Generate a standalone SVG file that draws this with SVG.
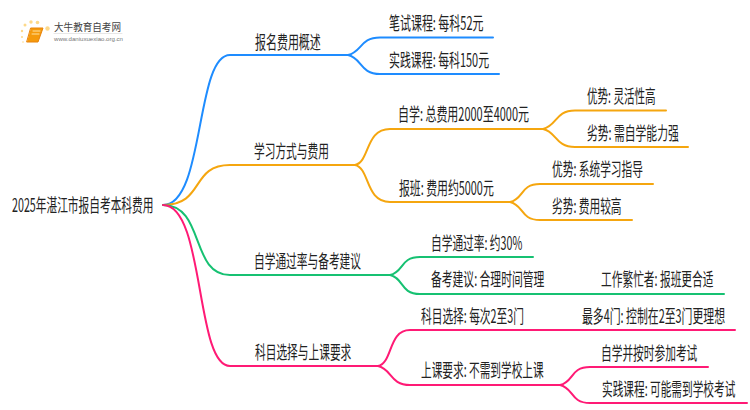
<svg xmlns="http://www.w3.org/2000/svg" width="750" height="410" viewBox="0 0 750 410">
<style>
text{font-family:"Noto Sans CJK SC","Noto Sans",sans-serif;font-size:18px;fill:#222}
path{fill:none;stroke-linecap:round}
.b{stroke:#1e8cff}.o{stroke:#f5a60f}.g{stroke:#16c172}.p{stroke:#ff1a75}
.l1{stroke-width:2}.l2{stroke-width:2}
</style>
<rect width="750" height="410" fill="#fff"/>
<g id="logo">
<g fill="#fdd98a"><circle cx="47.500" cy="28.500" r="2.200"/><circle cx="37.500" cy="22.500" r="1.800"/><circle cx="31" cy="22" r="1.700"/><circle cx="25" cy="25" r="1.500"/><circle cx="22" cy="31" r="1.200"/><circle cx="22" cy="37" r="1"/><circle cx="23" cy="42" r=".8"/></g>
<path d="M31 28H43L38 42H27Z" style="fill:#f59a0c;stroke:#e8830a"/>
<path d="M33 31H40M32 34H39" style="stroke:#ffe2a0;stroke-width:1"/>
<text x="54" y="31" textLength="67" lengthAdjust="spacingAndGlyphs" style="font-size:10.500px;fill:#444">大牛教育自考网</text>
<path d="M54 33.500H122" style="stroke:#ddd;stroke-width:.7"/>
<text x="54" y="41" textLength="69" lengthAdjust="spacingAndGlyphs" style="font-family:'Liberation Sans',sans-serif;font-size:6px;fill:#777">www.daniuxuexiao.org.cn</text>
</g>
<g id="connectors">
<path class="b l1" d="M163 205C205 205 195 55 230 55H348"/>
<path class="b l2" d="M348 55C362 52 360 37.500 380 37.500H493"/>
<path class="b l2" d="M348 55C362 58 360 74 380 74H499"/>
<path class="o l1" d="M163 205C205 205 190 165 230 165H355"/>
<path class="o l2" d="M355 165C370 162 365 129 390 129H543"/>
<path class="o l2" d="M355 165C370 168 365 202 390 202H510"/>
<path class="o l2" d="M543 129C557 126 555 110.500 575 110.500H666"/>
<path class="o l2" d="M543 129C557 132 555 147 575 147H688"/>
<path class="o l2" d="M510 202C524 199 520 184 540 184H653"/>
<path class="o l2" d="M510 202C524 205 520 220 540 220H632"/>
<path class="g l1" d="M163 205C205 205 190 275 230 275H390"/>
<path class="g l2" d="M390 275C404 272 400 257 420 257H533"/>
<path class="g l2" d="M390 275C404 278 400 294 420 294H724"/>
<path class="p l1" d="M163 205C205 205 195 366 230 366H378"/>
<path class="p l2" d="M378 366C393 363 388 330 410 330H735"/>
<path class="p l2" d="M378 366C392 369 390 385 410 385H560"/>
<path class="p l2" d="M560 385C574 382 570 367 590 367H708"/>
<path class="p l2" d="M560 385C574 388 570 403 590 403H747"/>
</g>
<g id="root"><text transform="translate(12 212) scale(.595 1)">2025年湛江市报自考本科费用</text></g>
<g id="n1"><text transform="translate(255 49) scale(.61 1)">报名费用概述</text></g>
<g id="n1a"><text transform="translate(389 30) scale(.61 1)">笔试课程: 每科52元</text></g>
<g id="n1b"><text transform="translate(389 67) scale(.607 1)">实践课程: 每科150元</text></g>
<g id="n2"><text transform="translate(254 158) scale(.595 1)">学习方式与费用</text></g>
<g id="n2a"><text transform="translate(398 121) scale(.61 1)">自学: 总费用2000至4000元</text></g>
<g id="n2a1"><text transform="translate(587 103) scale(.587 1)">优势: 灵活性高</text></g>
<g id="n2a2"><text transform="translate(587 140) scale(.6 1)">劣势: 需自学能力强</text></g>
<g id="n2b"><text transform="translate(399 195) scale(.604 1)">报班: 费用约5000元</text></g>
<g id="n2b1"><text transform="translate(552 176) scale(.595 1)">优势: 系统学习指导</text></g>
<g id="n2b2"><text transform="translate(552 213) scale(.595 1)">劣势: 费用较高</text></g>
<g id="n3"><text transform="translate(254 268) scale(.595 1)">自学通过率与备考建议</text></g>
<g id="n3a"><text transform="translate(431 250) scale(.595 1)">自学通过率: 约30%</text></g>
<g id="n3b"><text transform="translate(431 286) scale(.6 1)">备考建议: 合理时间管理</text></g>
<g id="n3b1"><text transform="translate(601 286) scale(.596 1)">工作繁忙者: 报班更合适</text></g>
<g id="n4"><text transform="translate(255 359) scale(.595 1)">科目选择与上课要求</text></g>
<g id="n4a"><text transform="translate(421 323) scale(.595 1)">科目选择: 每次2至3门</text></g>
<g id="n4a1"><text transform="translate(582 323) scale(.604 1)">最多4门: 控制在2至3门更理想</text></g>
<g id="n4b"><text transform="translate(421 377) scale(.593 1)">上课要求: 不需到学校上课</text></g>
<g id="n4b1"><text transform="translate(601 360) scale(.595 1)">自学并按时参加考试</text></g>
<g id="n4b2"><text transform="translate(602 396) scale(.593 1)">实践课程: 可能需到学校考试</text></g>
</svg>
